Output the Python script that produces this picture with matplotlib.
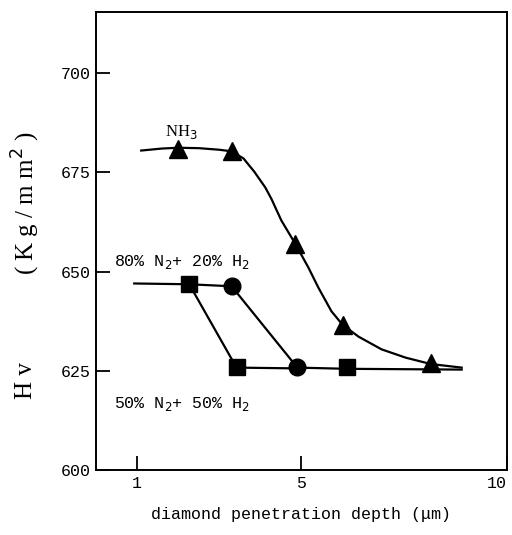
import matplotlib.pyplot as plt

# marker data
nh3_x = [2.0, 3.3, 4.85, 6.0, 8.15]
nh3_y = [681, 680.3, 657, 636.6, 627]
sq_x = [2.27, 3.42, 6.1]
sq_y = [646.8, 626, 626]
circ_x = [3.3, 4.9]
circ_y = [646.3, 626]

# hand-drawn curves
nh3_curve_x = [1.1, 1.6, 2.0, 2.5, 3.0, 3.3, 3.59, 3.85, 4.12, 4.27, 4.51, 4.85,
               5.17, 5.41, 5.73, 6.0, 6.39, 6.95, 7.54, 8.15, 8.9]
nh3_curve_y = [680.5, 681, 681.2, 681.1, 680.7, 680.3, 678.5, 675.2, 671.2, 668.3,
               662.9, 657, 651, 646, 640, 636.6, 633.6, 630.4, 628.3, 626.7, 625.8]
line_a_x = [0.93, 2.27, 3.3, 4.9, 6.1, 8.9]
line_a_y = [647, 646.8, 646.3, 625.8, 625.5, 625.3]
line_b_x = [2.27, 3.42, 4.9]
line_b_y = [646.8, 625.8, 625.6]

mono = "Liberation Mono"
serif = "Liberation Serif"

fig = plt.figure(figsize=(5.12, 5.35), dpi=100)
ax = fig.add_axes([0.1875, 0.1215, 0.8025, 0.856])

ax.plot(nh3_curve_x, nh3_curve_y, color="black", lw=1.6)
ax.plot(line_a_x, line_a_y, color="black", lw=1.6)
ax.plot(line_b_x, line_b_y, color="black", lw=1.6)
ax.plot(nh3_x, nh3_y, "^", color="black", ms=13, ls="none")
ax.plot(sq_x, sq_y, "s", color="black", ms=11, ls="none")
ax.plot(circ_x, circ_y, "o", color="black", ms=12, ls="none")

ax.text(2.07, 683, "NH$_3$", ha="center", va="bottom", fontsize=12, family=serif)
ax.text(0.45, 652.3, "80% N$_2$+ 20% H$_2$", ha="left", va="center",
        fontsize=12, family=mono)
ax.text(0.45, 616.7, "50% N$_2$+ 50% H$_2$", ha="left", va="center",
        fontsize=12, family=mono)

ax.set_xlim(0, 10)
ax.set_ylim(600, 715.4)
ax.set_xticks([1, 5, 10])
ax.set_yticks([600, 625, 650, 675, 700])
ax.tick_params(direction="in", length=10, width=1.3, labelsize=12, pad=4)
for lab in ax.get_xticklabels() + ax.get_yticklabels():
    lab.set_family(mono)
ax.get_xticklabels()[-1].set_ha("right")
for sp in ax.spines.values():
    sp.set_linewidth(1.4)

ax.set_xlabel("diamond penetration depth (μm)", fontsize=12, family=mono, labelpad=12)

# y label drawn as two pieces, widely spaced like the original
fig.text(0.05, 0.288, "H v", rotation=90, ha="center", va="center",
         fontsize=18, family=serif)
fig.text(0.05, 0.62, "( K g / m m$^{2}$ )", rotation=90, ha="center", va="center",
         fontsize=18, family=serif)

fig.savefig("out.png", dpi=100)
